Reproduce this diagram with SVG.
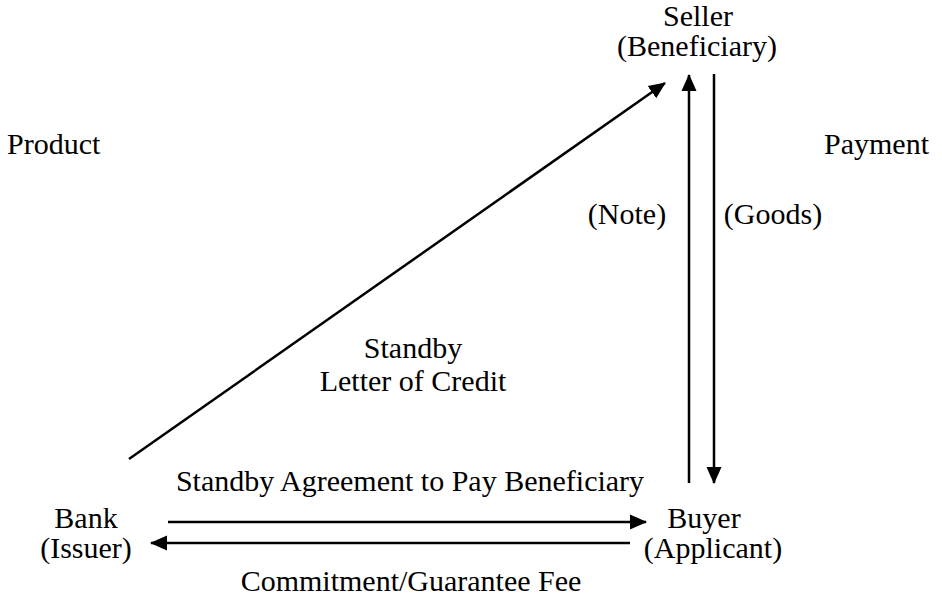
<svg xmlns="http://www.w3.org/2000/svg" width="942" height="603" viewBox="0 0 942 603">
<style>
text{font-family:"Liberation Serif","Times New Roman",serif;font-size:30px;fill:#000}
.c{text-anchor:middle}
.ln{stroke:#000;stroke-width:2.5;fill:none}
</style>
<defs>
<marker id="ah" markerUnits="userSpaceOnUse" markerWidth="17" markerHeight="17" viewBox="0 0 17 17" refX="16" refY="8.5" orient="auto">
<path d="M0,1 L17,8.5 L0,16 Z" fill="#000"/>
</marker>
</defs>
<rect width="942" height="603" fill="#fff"/>
<g id="seller"><text class="c" x="698" y="26">Seller</text><text class="c" x="697" y="56">(Beneficiary)</text></g>
<g id="bank"><text class="c" x="86" y="528">Bank</text><text class="c" x="86" y="558">(Issuer)</text></g>
<g id="buyer"><text class="c" x="704" y="528">Buyer</text><text class="c" x="713" y="558">(Applicant)</text></g>
<g id="labels">
<text x="7" y="154">Product</text>
<text x="824" y="154">Payment</text>
</g>
<g id="connectors">
<line class="ln" x1="129" y1="459" x2="665" y2="83" marker-end="url(#ah)"/>
<line class="ln" x1="689" y1="483" x2="689" y2="75" marker-end="url(#ah)"/>
<line class="ln" x1="714" y1="74" x2="714" y2="483" marker-end="url(#ah)"/>
<line class="ln" x1="168" y1="522" x2="646" y2="522" marker-end="url(#ah)"/>
<line class="ln" x1="630" y1="543" x2="151" y2="543" marker-end="url(#ah)"/>
<text class="c" x="627" y="224">(Note)</text>
<text class="c" x="773" y="224">(Goods)</text>
<text class="c" x="413" y="358">Standby</text>
<text class="c" x="413" y="391">Letter of Credit</text>
<text class="c" x="410" y="491">Standby Agreement to Pay Beneficiary</text>
<text class="c" x="411" y="591">Commitment/Guarantee Fee</text>
</g>
</svg>
